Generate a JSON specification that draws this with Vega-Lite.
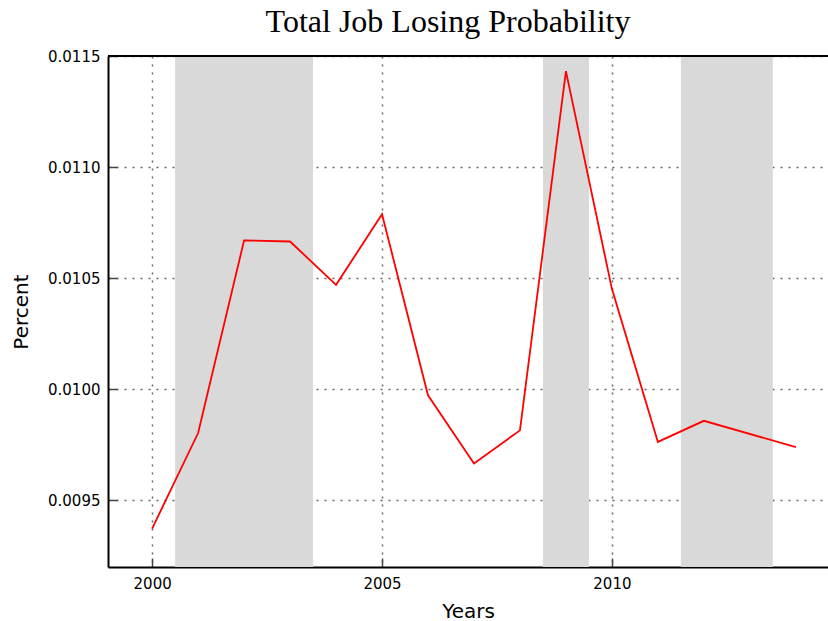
{
  "$schema": "https://vega.github.io/schema/vega-lite/v6.json",
  "width": 720,
  "height": 511,
  "autosize": {"type": "none"},
  "padding": {"left": 108, "top": 56, "right": 0, "bottom": 54},
  "background": "white",
  "view": {"stroke": null},
  "title": {
    "text": "Total Job Losing Probability",
    "font": "Liberation Serif",
    "fontSize": 32,
    "fontWeight": "normal",
    "color": "black",
    "anchor": "middle",
    "dx": -20,
    "offset": 10
  },
  "datasets": {
    "recessions": [
      {"start": 2000.5, "end": 2003.5},
      {"start": 2008.5, "end": 2009.5},
      {"start": 2011.5, "end": 2013.5}
    ],
    "series": [
      {"year": 2000, "percent": 0.009373},
      {"year": 2001, "percent": 0.009803},
      {"year": 2002, "percent": 0.010670},
      {"year": 2003, "percent": 0.010665},
      {"year": 2004, "percent": 0.010470},
      {"year": 2005, "percent": 0.010788},
      {"year": 2006, "percent": 0.009973},
      {"year": 2007, "percent": 0.009666},
      {"year": 2008, "percent": 0.009815},
      {"year": 2009, "percent": 0.011432},
      {"year": 2010, "percent": 0.010452},
      {"year": 2011, "percent": 0.009763},
      {"year": 2012, "percent": 0.009858},
      {"year": 2014, "percent": 0.009740}
    ]
  },
  "config": {
    "axis": {
      "labelFont": "DejaVu Sans",
      "labelFontSize": 15,
      "labelColor": "black",
      "titleFont": "DejaVu Sans",
      "titleFontSize": 20,
      "titleFontWeight": "normal",
      "titleColor": "black",
      "domainColor": "black",
      "domainWidth": 2,
      "tickColor": "#444",
      "tickWidth": 1.5,
      "tickSize": -9,
      "grid": true,
      "gridColor": "#666",
      "gridWidth": 1.5,
      "gridDash": [2, 6],
      "zindex": 1
    }
  },
  "layer": [
    {
      "data": {"name": "recessions"},
      "mark": {"type": "rect", "color": "#d9d9d9"},
      "encoding": {
        "x": {
          "field": "start",
          "type": "quantitative",
          "scale": {"domain": [1999.04, 2014.7], "nice": false, "zero": false},
          "axis": {"title": "Years", "values": [2000, 2005, 2010], "format": "d", "labelPadding": 18, "titlePadding": 10}
        },
        "x2": {"field": "end"}
      }
    },
    {
      "data": {"name": "series"},
      "mark": {"type": "line", "color": "#ff0000", "strokeWidth": 1.8},
      "encoding": {
        "x": {
          "field": "year",
          "type": "quantitative",
          "scale": {"domain": [1999.04, 2014.7], "nice": false, "zero": false},
          "axis": {"title": "Years", "values": [2000, 2005, 2010], "format": "d", "labelPadding": 18, "titlePadding": 10}
        },
        "y": {
          "field": "percent",
          "type": "quantitative",
          "scale": {"domain": [0.0092, 0.0115], "nice": false, "zero": false},
          "axis": {"title": "Percent", "values": [0.0095, 0.0100, 0.0105, 0.0110, 0.0115], "format": ".4f", "labelPadding": 17, "titlePadding": 16}
        }
      }
    },
    {
      "data": {"values": [{}]},
      "mark": {"type": "rule", "color": "black", "strokeWidth": 2},
      "encoding": {
        "y": {
          "datum": 0.0115,
          "type": "quantitative",
          "scale": {"domain": [0.0092, 0.0115], "nice": false, "zero": false},
          "axis": {"title": "Percent", "values": [0.0095, 0.0100, 0.0105, 0.0110, 0.0115], "format": ".4f", "labelPadding": 17, "titlePadding": 16}
        }
      }
    }
  ]
}
